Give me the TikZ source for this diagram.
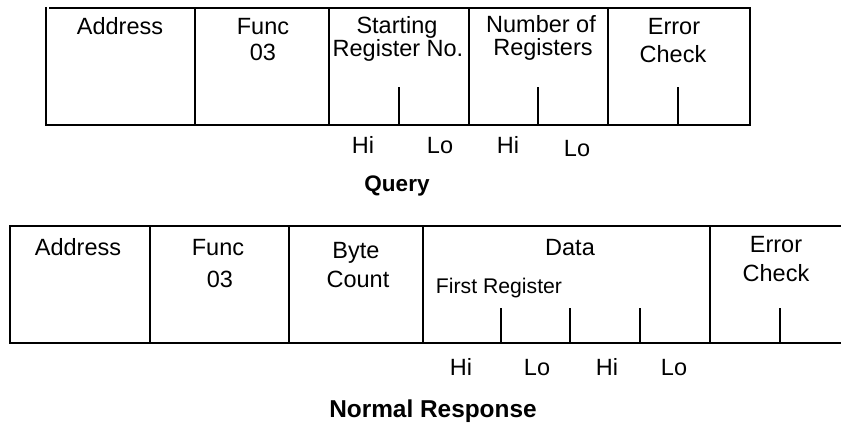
\documentclass[tikz,border=0pt]{standalone}
\usepackage{fontspec}
\setmainfont{Liberation Sans}
\begin{document}
\begin{tikzpicture}[x=1pt,y=-1pt,
  ln/.style={line width=1.3pt,line cap=rect},
  tk/.style={line width=1.1pt},
  txt/.style={anchor=base,inner sep=0pt,font=\fontsize{23.5}{28}\selectfont},
  small/.style={anchor=base,inner sep=0pt,font=\fontsize{21.2}{25}\selectfont},
  ttl/.style={anchor=base,inner sep=0pt,font=\fontsize{22.5}{26}\selectfont\bfseries},
  ttlb/.style={anchor=base,inner sep=0pt,font=\fontsize{24.4}{28}\selectfont\bfseries}]
\useasboundingbox (0,0) rectangle (841,424);
% ---- Query frame
\draw[ln] (50,8) -- (750,8);
\draw[ln] (46,8) -- (46,125) -- (750,125);
\foreach \x in {195,329,469,608,750} \draw[ln] (\x,8) -- (\x,125);
\foreach \x in {399,538,678} \draw[tk] (\x,87) -- (\x,124);
% ---- Query texts
\node[txt] (qa) at (120,34) {Address};
\node[txt] (qf) at (263,34) {Func};
\node[txt] (qf2) at (263,60) {03};
\node[txt] (qs1) at (397,33) {Starting};
\node[txt] (qs2) at (398,56) {Register No.};
\node[txt] (qn1) at (541,32) {Number of};
\node[txt] (qn2) at (543,55) {Registers};
\node[txt] (qe1) at (674,34) {Error};
\node[txt] (qe2) at (673,62) {Check};
\node[txt] (qh1) at (363,153) {Hi};
\node[txt] (ql1) at (440,153) {Lo};
\node[txt] (qh2) at (508,153) {Hi};
\node[txt] (ql2) at (577,156) {Lo};
\node[ttl] (qt) at (397,191) {Query};
% ---- Response frame
\draw[ln] (10,226) -- (841,226);
\draw[ln] (10,226) -- (10,343) -- (841,343);
\foreach \x in {150,289,423,710} \draw[ln] (\x,226) -- (\x,343);
\foreach \x in {501,570,640,780} \draw[tk] (\x,308) -- (\x,342);
% ---- Response texts
\node[txt] (ra) at (78,255) {Address};
\node[txt] (rf) at (218,255) {Func};
\node[txt] (rf2) at (220,287) {03};
\node[txt] (rb1) at (356,258) {Byte};
\node[txt] (rb2) at (358,287) {Count};
\node[txt] (rd) at (570,255) {Data};
\node[small] (rfr) at (499,293) {First Register};
\node[txt] (re1) at (776,252) {Error};
\node[txt] (re2) at (776,281) {Check};
\node[txt] (rh1) at (461,375) {Hi};
\node[txt] (rl1) at (537,375) {Lo};
\node[txt] (rh2) at (607,375) {Hi};
\node[txt] (rl2) at (674,375) {Lo};
\node[ttlb] (rt) at (433,417) {Normal Response};
\end{tikzpicture}
\end{document}
